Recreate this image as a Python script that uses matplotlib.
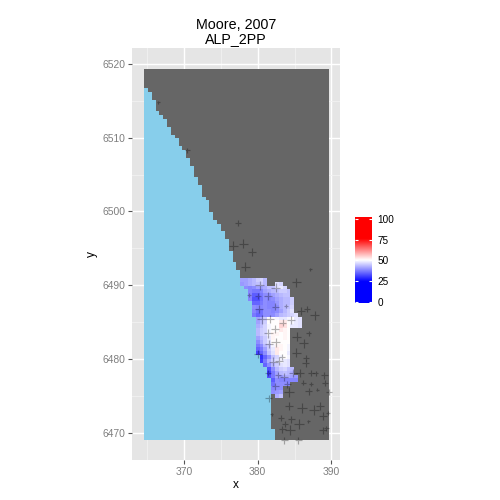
import numpy as np
import matplotlib
matplotlib.use('Agg')
import matplotlib.pyplot as plt
from matplotlib.colors import LinearSegmentedColormap

plt.rcParams['font.family'] = ['Liberation Sans', 'DejaVu Sans']

title = "Moore, 2007\nALP_2PP"
x_ticks = [370, 380, 390]
x_minor = [365, 375, 385]
y_ticks = [6470, 6480, 6490, 6500, 6510, 6520]
y_minor = [6475, 6485, 6495, 6505, 6515]
legend_ticks = [0, 25, 50, 75, 100]

# extent of the raster, 48 columns by 96 rows
grid_x = (364.56, 389.68)
grid_y = (6468.93, 6519.35)
n_cols = 48
n_rows = 96

# how many columns are sea on each row, top row first, as (sea columns, rows)
sea_runs = [(0, 5), (1, 1), (2, 2), (3, 3), (4, 1), (5, 1), (6, 2), (7, 2), (8, 1), (9, 2),
            (10, 1), (11, 2), (12, 2), (13, 3), (14, 2), (15, 3), (16, 1), (17, 3), (18, 2),
            (19, 1), (20, 2), (21, 2), (22, 3), (23, 3), (24, 2), (25, 4), (26, 1), (27, 3),
            (28, 4), (29, 10), (30, 2), (31, 1), (32, 3), (33, 13), (34, 3)]

# interpolated surface, rows 54 to 84 : (first column, values)
heat_first_row = 54
heat_rows = [
    (25, [41, 41, 42, 43, 45, 46, 43]),
    (25, [40, 41, 42, 43, 44, 45, 43, None, None, 47, 46]),
    (26, [39, 38, 39, 41, 41, 42, 44, 44, 47, 48, 46]),
    (27, [38, 37, 37, 38, 41, 42, 43, 44, 45, 45, 44]),
    (27, [38, 34, 34, 37, 39, 39, 41, 42, 43, 44, 44]),
    (27, [38, 33, 33, 36, 39, 38, 39, 41, 42, 43, 43, 45]),
    (28, [35, 35, 37, 39, 38, 38, 40, 42, 43, 43, 45]),
    (28, [39, 38, 38, 39, 38, 38, 39, 42, 43, 44, 46]),
    (28, [38, 36, 36, 39, 39, 38, 39, 41, 43, 45, 47]),
    (28, [37, 35, 36, 39, 39, 39, 41, 43, 44, 45, 46, 47]),
    (29, [41, 42, 45, 50, 50, 49, 48, 48, 49, 50, 48, 47]),
    (29, [41, 43, 45, 50, 50, 50, 52, 52, 50, 49, 48, 47]),
    (29, [42, 44, 46, 49, 50, 50, 54, 53, 50, 48, 48, 47]),
    (29, [43, 45, 46, 49, 50, 50, 52, 51, 50]),
    (29, [43, 45, 46, 49, 51, 51, 50, 51, 50]),
    (29, [41, 43, 45, 48, 51, 50, 50, 51, 50]),
    (29, [39, 42, 45, 47, 50, 50, 50, 50, 50]),
    (29, [37, 39, 43, 45, 49, 51, 51, 50, 49]),
    (29, [35, 37, 41, 45, 48, 52, 51, 50, 49]),
    (29, [32, 35, 39, 44, 47, 52, 50, 50, 48]),
    (30, [30, 35, 39, 44, 46, 49, 50, 49]),
    (30, [31, 37, 42, 45, 47, 49, 48, 47]),
    (31, [35, 39, 43, 45, 47, 48, 47]),
    (32, [33, 39, 43, 45, 46, 44, 43]),
    (32, [31, 37, 41, 43, 44, 43, 42]),
    (32, [33, 37, 41, 40, 42, 42, 41, 40]),
    (33, [34, 39, 38, 38, 38, 38, 38]),
    (33, [36, 39, 39, 39, 38]),
    (33, [38, 39, 39]),
    (33, [39, 40, 41]),
    (34, [42, 44]),
]

# survey points
pt_x = [366.47, 370.41, 377.33, 376.65, 378.01, 379.23, 378.28, 385.20, 380.31, 382.48, 387.10,
        378.82, 380.04, 381.40, 382.35, 383.84, 380.18, 386.69, 385.88, 387.77, 380.58, 381.67,
        383.43, 384.52, 382.35, 381.40, 386.96, 385.33, 382.48, 381.53, 386.28, 385.20, 380.04,
        383.30, 386.55, 382.89, 382.08, 386.55, 385.74, 381.40, 384.79, 382.75, 387.23, 387.91,
        389.00, 383.57, 383.98, 386.15, 387.23, 389.13, 382.35, 384.25, 386.96, 388.05, 389.67,
        381.53, 384.25, 388.45, 386.01, 387.64, 381.94, 389.54, 388.86, 383.16, 384.52, 386.83,
        383.70, 385.60, 383.30, 384.38, 389.27, 388.86, 383.57, 385.47]
pt_y = [6514.84, 6508.33, 6498.43, 6495.31, 6495.58, 6494.49, 6492.46, 6490.42, 6490.01, 6489.61, 6492.18,
        6488.66, 6488.52, 6488.52, 6487.03, 6487.16, 6486.76, 6486.76, 6486.49, 6485.94, 6485.40, 6485.40,
        6484.86, 6485.26, 6484.04, 6483.50, 6483.50, 6482.96, 6482.28, 6482.01, 6482.14, 6480.79, 6480.65,
        6480.24, 6480.11, 6479.70, 6479.57, 6479.43, 6478.07, 6478.07, 6478.07, 6477.80, 6478.07, 6478.07,
        6477.80, 6477.53, 6476.58, 6476.72, 6476.58, 6476.72, 6476.31, 6475.50, 6475.63, 6475.77, 6475.50,
        6474.68, 6473.59, 6473.59, 6473.32, 6473.05, 6472.51, 6472.65, 6472.24, 6471.97, 6471.83, 6471.56,
        6471.15, 6471.15, 6470.47, 6470.34, 6470.61, 6470.34, 6468.98, 6468.98]
pt_abund = [0, 2, 3, 6, 6, 5, 6, 6, 6, 6, 0,
            1, 3, 5, 4, 1, 5, 3, 5, 6, 6, 5,
            4, 5, 5, 6, 2, 6, 6, 5, 6, 6, 5,
            3, 3, 5, 6, 4, 5, 3, 5, 3, 3, 2,
            4, 5, 4, 2, 1, 3, 4, 7, 4, 0, 3,
            4, 5, 5, 7, 7, 0, 1, 5, 3, 4, 0,
            3, 7, 4, 7, 2, 4, 4, 4]


def build_layers():
    sea = np.repeat([n for n, _ in sea_runs], [c for _, c in sea_runs])
    col_idx = np.arange(n_cols)
    land = np.array([col_idx >= n for n in sea])
    heat = np.full((n_rows, n_cols), np.nan)
    for r, (first, vals) in enumerate(heat_rows):
        for c, v in enumerate(vals):
            if v is not None and first + c >= sea[heat_first_row + r]:
                heat[heat_first_row + r, first + c] = v
    return land, heat


land, heat = build_layers()
x_edges = np.linspace(grid_x[0], grid_x[1], n_cols + 1)
y_edges = np.linspace(grid_y[1], grid_y[0], n_rows + 1)

fill = LinearSegmentedColormap.from_list(
    'bwr_clip', [(0, 'blue'), (0.25, 'blue'), (0.5, 'white'), (0.75, 'red'), (1, 'red')])
base = LinearSegmentedColormap.from_list('base', ['skyblue', '#666666'])

fig = plt.figure(figsize=(5, 5), dpi=100)
ax = fig.add_axes([132 / 500, 1 - 460 / 500, 208 / 500, 412 / 500], facecolor='#E5E5E5')

ax.pcolormesh(x_edges, y_edges, land.astype(float), cmap=base, vmin=0, vmax=1, zorder=2)
ax.pcolormesh(x_edges, y_edges, np.ma.masked_invalid(heat), cmap=fill, vmin=0, vmax=100, zorder=3)
widths = 3 + np.array(pt_abund)
ax.scatter(pt_x, pt_y, s=(widths * 0.72) ** 2, marker='+', c='black', alpha=0.3,
           linewidths=0.85, zorder=4)

ax.set_xlim(362.94, 391.17)
ax.set_ylim(6466.27, 6522.17)
ax.set_xticks(x_ticks)
ax.set_xticks(x_minor, minor=True)
ax.set_yticks(y_ticks)
ax.set_yticks(y_minor, minor=True)
ax.set_yticklabels([str(t) for t in y_ticks])
ax.grid(True, which='major', color='white', linewidth=1.0, zorder=1)
ax.grid(True, which='minor', color='#F2F2F2', linewidth=0.6, zorder=1)
ax.set_axisbelow(True)
ax.tick_params(which='major', length=3, width=0.8, color='#555555', labelcolor='#7F7F7F',
               labelsize=7.4, pad=2)
ax.tick_params(which='minor', length=0)
for s in ax.spines.values():
    s.set_visible(False)

fig.text(236 / 500, 1 - 485 / 500, 'x', fontsize=8.6, ha='center', va='center')
fig.text(92 / 500, 1 - 254 / 500, 'y', fontsize=8.6, ha='center', va='center', rotation=90)
fig.text(236 / 500, 1 - 32 / 500, title, fontsize=10.3, ha='center', va='center', linespacing=1.05)

# colour bar in ggplot style
cax = fig.add_axes([355 / 500, 1 - 303 / 500, 17 / 500, 85.5 / 500])
ramp = np.linspace(0, 100, 256).reshape(-1, 1)
cax.imshow(ramp, origin='lower', aspect='auto', cmap=fill, vmin=0, vmax=100,
           extent=[0, 1, -1, 101.5])
for t in legend_ticks:
    cax.plot([0, 0.2], [t, t], color='white', lw=0.8, clip_on=False, solid_capstyle='butt')
    cax.plot([0.8, 1], [t, t], color='white', lw=0.8, clip_on=False, solid_capstyle='butt')
cax.set_xlim(0, 1)
cax.set_ylim(-1, 101.5)
cax.set_xticks([])
cax.yaxis.tick_right()
cax.set_yticks(legend_ticks)
cax.tick_params(length=0, labelsize=7.2, pad=4)
for s in cax.spines.values():
    s.set_visible(False)

fig.savefig('out.png', dpi=100)
